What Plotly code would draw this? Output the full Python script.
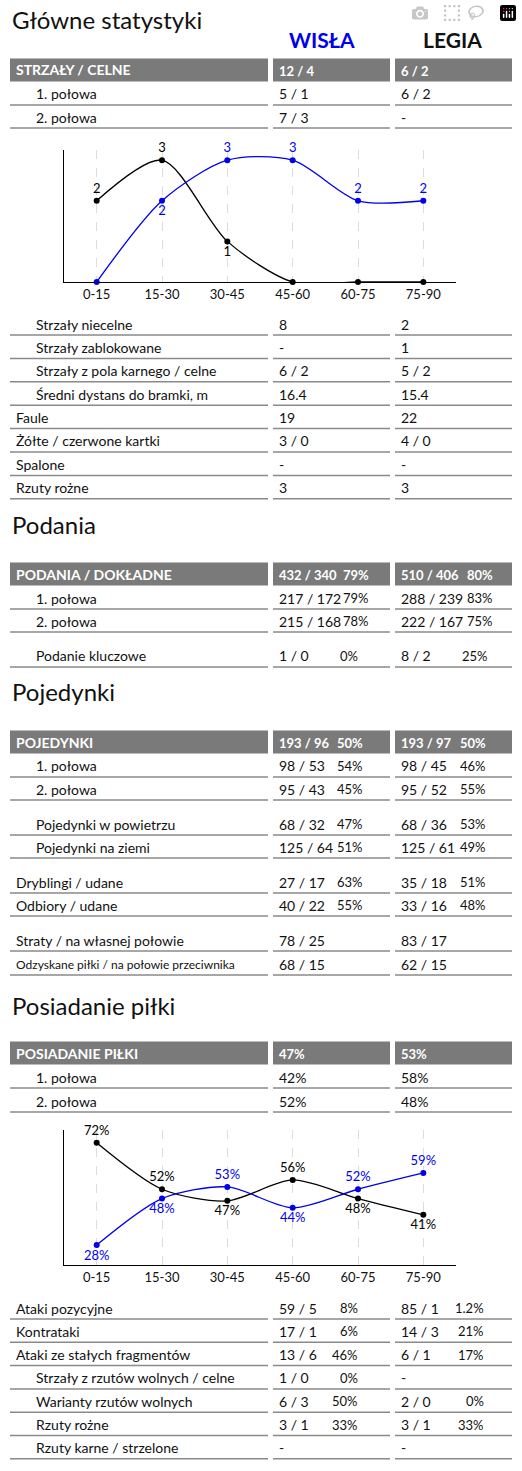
import plotly.graph_objects as go

W, H = 522, 1471
FONT = "Lato"

periods = ["0-15", "15-30", "30-45", "45-60", "60-75", "75-90"]
shots_wisla = [0, 2, 3, 3, 2, 2]
shots_legia = [2, 3, 1, 0, 0, 0]
poss_wisla = [28, 48, 53, 44, 52, 59]
poss_legia = [72, 52, 47, 56, 48, 41]

sections = ["Główne statystyki", "Podania", "Pojedynki", "Posiadanie piłki"]
teams = ["WISŁA", "LEGIA"]

# (label, wisla, legia, wisla %, legia %)
shots_head = ("STRZAŁY / CELNE", "12 / 4", "6 / 2")
shots_rows = [("1. połowa", "5 / 1", "6 / 2"), ("2. połowa", "7 / 3", "-")]
main_rows = [
    ("Strzały niecelne", "8", "2"),
    ("Strzały zablokowane", "-", "1"),
    ("Strzały z pola karnego / celne", "6 / 2", "5 / 2"),
    ("Średni dystans do bramki, m", "16.4", "15.4"),
    ("Faule", "19", "22"),
    ("Żółte / czerwone kartki", "3 / 0", "4 / 0"),
    ("Spalone", "-", "-"),
    ("Rzuty rożne", "3", "3"),
]
pass_head = ("PODANIA / DOKŁADNE", "432 / 340", "510 / 406", "79%", "80%")
pass_rows = [
    ("1. połowa", "217 / 172", "288 / 239", "79%", "83%"),
    ("2. połowa", "215 / 168", "222 / 167", "78%", "75%"),
    ("Podanie kluczowe", "1 / 0", "8 / 2", "0%", "25%"),
]
duel_head = ("POJEDYNKI", "193 / 96", "193 / 97", "50%", "50%")
duel_rows = [
    ("1. połowa", "98 / 53", "98 / 45", "54%", "46%"),
    ("2. połowa", "95 / 43", "95 / 52", "45%", "55%"),
    ("Pojedynki w powietrzu", "68 / 32", "68 / 36", "47%", "53%"),
    ("Pojedynki na ziemi", "125 / 64", "125 / 61", "51%", "49%"),
    ("Dryblingi / udane", "27 / 17", "35 / 18", "63%", "51%"),
    ("Odbiory / udane", "40 / 22", "33 / 16", "55%", "48%"),
    ("Straty / na własnej połowie", "78 / 25", "83 / 17", "", ""),
    ("Odzyskane piłki / na połowie przeciwnika", "68 / 15", "62 / 15", "", ""),
]
poss_head = ("POSIADANIE PIŁKI", "47%", "53%")
poss_rows = [("1. połowa", "42%", "58%"), ("2. połowa", "52%", "48%")]
attack_rows = [
    ("Ataki pozycyjne", "59 / 5", "85 / 1", "8%", "1.2%"),
    ("Kontrataki", "17 / 1", "14 / 3", "6%", "21%"),
    ("Ataki ze stałych fragmentów", "13 / 6", "6 / 1", "46%", "17%"),
    ("Strzały z rzutów wolnych / celne", "1 / 0", "-", "0%", ""),
    ("Warianty rzutów wolnych", "6 / 3", "2 / 0", "50%", "0%"),
    ("Rzuty rożne", "3 / 1", "3 / 1", "33%", "33%"),
    ("Rzuty karne / strzelone", "-", "-", "", ""),
]

ann, shapes = [], []


def px(x):
    return x / W


def py(y):
    return 1 - y / H


def text(x, y, s, size=14, color="#111", anchor="left", **kw):
    ann.append(dict(x=px(x), y=py(y), xref="paper", yref="paper", text=s, showarrow=False,
                    xanchor=anchor, yanchor="middle", font=dict(family=FONT, size=size, color=color, **kw)))


def hline(x0, x1, y, color="#8a8a8a", w=1.5):
    shapes.append(dict(type="line", xref="paper", yref="paper", x0=px(x0), x1=px(x1), y0=py(y), y1=py(y),
                       line=dict(color=color, width=w)))


COLS = [(10, 268), (273, 390), (395, 512)]


def pcts(y, r, pct, size=13, color="#111", bold=False):
    # pct = (x1, x2, anchor)
    fmt = "<b>%s</b>" if bold else "%s"
    if len(r) > 3:
        if r[3]:
            text(pct[0], y, fmt % r[3], size=size, color=color, anchor=pct[2])
        if r[4]:
            text(pct[1], y, fmt % r[4], size=size, color=color, anchor=pct[2])


def header(y, r, pct=(340, 463, "left")):
    for x0, x1 in COLS:
        shapes.append(dict(type="rect", xref="paper", yref="paper", x0=px(x0), x1=px(x1),
                           y0=py(y + 11.5), y1=py(y - 11.5), fillcolor="#7a7a7a", line_width=0))
    text(14, y, "<b>%s</b>" % r[0], color="white")
    text(277, y + 1, "<b>%s</b>" % r[1], size=13, color="white")
    text(399, y + 1, "<b>%s</b>" % r[2], size=13, color="white")
    pcts(y + 1, r, pct, color="white", bold=True)


def row(y, r, indent=34, size=14, pct=(340, 463, "left")):
    text(indent, y, r[0], size=size)
    text(277, y, r[1])
    text(399, y, r[2])
    pcts(y, r, pct)
    for x0, x1 in COLS:
        hline(x0, x1, y + 11)


# section 1
text(10, 20, sections[0], size=24)
text(322, 40, "<b>%s</b>" % teams[0], size=21, color="#0000ee", anchor="center")
text(452, 40, "<b>%s</b>" % teams[1], size=21, color="#111", anchor="center")
header(70, shots_head)
row(94, shots_rows[0])
row(117, shots_rows[1])
for i, r in enumerate(main_rows):
    row(324 + 23.4 * i, r, indent=34 if i < 4 else 14)

# section 2
text(10, 524, sections[1], size=24)
header(574, pass_head, pct=(341, 465, "left"))
row(598, pass_rows[0], pct=(341, 465, "left"))
row(621, pass_rows[1], pct=(341, 465, "left"))
row(656, pass_rows[2], pct=(360, 490, "right"))

# section 3
text(10, 692, sections[2], size=24)
duel_pct = (335, 458, "left")
header(742, duel_head, pct=duel_pct)
duel_y = [766, 789, 824, 847, 882, 905, 940, 964]
duel_x = [34, 34, 34, 34, 14, 14, 14, 14]
for i, r in enumerate(duel_rows):
    row(duel_y[i], r, indent=duel_x[i], size=12 if i == 7 else 14, pct=duel_pct)

# section 4
text(10, 1005, sections[3], size=24)
header(1053, poss_head)
row(1077, poss_rows[0])
row(1101, poss_rows[1])
for i, r in enumerate(attack_rows):
    row(1308 + 23.3 * i, r, indent=14 if i < 3 else 34, pct=(360, 486, "right"))

fig = go.Figure()


def series(vals, color, xa, ya, pos, hide_zero=False):
    labels = ["" if (hide_zero and v == 0) else ("%d%%" % v if ya == "y2" else str(v)) for v in vals]
    fig.add_trace(go.Scatter(x=periods, y=vals, mode="lines+markers+text", text=labels, textposition=pos,
                             line=dict(color=color, width=1.3, shape="spline", smoothing=0.8),
                             marker=dict(color=color, size=6), cliponaxis=False,
                             textfont=dict(family=FONT, size=13, color=color),
                             xaxis=xa, yaxis=ya, showlegend=False, hoverinfo="skip"))


series(shots_legia, "black", "x", "y", ["top center", "top center", "bottom center", "top center", "top center", "top center"], True)
series(shots_wisla, "#0000ee", "x", "y", ["top center", "bottom center", "top center", "top center", "top center", "top center"], True)
series(poss_legia, "black", "x2", "y2", ["top center", "top center", "bottom center", "top center", "bottom center", "bottom center"])
series(poss_wisla, "#0000ee", "x2", "y2", ["bottom center", "bottom center", "top center", "bottom center", "top center", "top center"])

xax = dict(type="category", range=[-0.5, 5.5], domain=[px(64), px(456)], showgrid=True, griddash="dash",
           gridcolor="#dddddd", showline=True, linecolor="black", linewidth=1.2, ticks="",
           tickfont=dict(family=FONT, size=13, color="#111"), fixedrange=True)
yax = dict(showgrid=False, zeroline=False, showline=True, linecolor="black", linewidth=1.2,
           showticklabels=False, ticks="", fixedrange=True)

fig.update_layout(
    width=W, height=H, margin=dict(l=0, r=0, t=0, b=0),
    paper_bgcolor="white", plot_bgcolor="white",
    xaxis=dict(xax, anchor="y"),
    yaxis=dict(yax, domain=[py(282), py(150)], range=[0, 3.25], anchor="x"),
    xaxis2=dict(xax, anchor="y2"),
    yaxis2=dict(yax, domain=[py(1265), py(1130)], range=[19.4, 77.5], anchor="x2"),
    annotations=ann, shapes=shapes,
)

fig.write_html("out.html", post_script="document.body.style.margin='0';")
